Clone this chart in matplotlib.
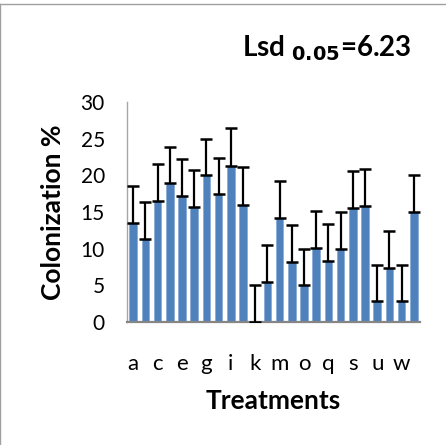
import numpy as np
import matplotlib
matplotlib.use("Agg")
import matplotlib.pyplot as plt
from matplotlib.lines import Line2D

# -----------------------------
# data
# -----------------------------
treatments = list("abcdefghijklmnopqrstuvwx")
colonization = [13.5, 11.3, 16.5, 18.9, 17.2, 15.7, 20.0, 17.4, 21.3, 16.0,
                0.0, 5.4, 14.2, 8.2, 5.0, 10.1, 8.3, 9.95, 15.6, 15.8,
                2.8, 7.4, 2.8, 15.0]
errors = [5.1, 5.0, 5.0, 5.0, 5.0, 5.0, 5.0, 5.0, 5.1, 5.1,
          5.0, 5.05, 5.0, 5.0, 5.0, 5.0, 5.1, 5.05, 5.0, 5.0,
          5.0, 5.0, 5.0, 5.0]
yticks = [0, 5, 10, 15, 20, 25, 30]

plt.rcParams['font.family'] = ['Lato', 'DejaVu Sans']

fig = plt.figure(figsize=(4.46, 4.45), dpi=100)
ax = fig.add_axes([0.2848, 0.2764, 0.6569, 0.4944])

x = np.arange(len(treatments))
ax.bar(x, colonization, width=0.62, color='#4F81BD', edgecolor='#7FA3D3',
       linewidth=0.4, zorder=2)
ax.errorbar(x, colonization, yerr=[np.zeros(len(errors)), errors], fmt='none',
            ecolor='black', elinewidth=1.6, capsize=4, capthick=1.8, zorder=3)

ax.set_xlim(-0.5, len(treatments) - 0.5)
ax.set_ylim(0, 30)
ax.set_yticks(yticks)
ax.set_yticklabels([str(v) for v in yticks], fontsize=15)
ax.set_xticks(x[::2])
ax.set_xticklabels(treatments[::2], fontsize=16)
ax.tick_params(axis='y', length=0, pad=16)
ax.tick_params(axis='x', length=0, pad=23)

for s in ['top', 'right']:
    ax.spines[s].set_visible(False)
ax.spines['left'].set_color('#A6A6A6')
ax.spines['left'].set_linewidth(1.0)
ax.spines['bottom'].set_color('#868686')
ax.spines['bottom'].set_linewidth(1.6)

ax.set_xlabel("Treatments", fontsize=19, fontweight='bold', labelpad=11)
ax.set_ylabel("Colonization %", fontsize=19, fontweight='bold', labelpad=11)

fig.text(0.543, 0.893, r"Lsd $_{\mathbf{0.05}}$=6.23", fontsize=20,
         fontweight='bold', ha='left', va='center')

# frame lines (top and left only)
fig.add_artist(Line2D([0.001, 1.0], [0.991, 0.991], color='#A0A0A0', lw=1.0))
fig.add_artist(Line2D([0.001, 0.001], [0.0, 0.991], color='#A0A0A0', lw=1.0))

fig.savefig("out.png", dpi=100)
